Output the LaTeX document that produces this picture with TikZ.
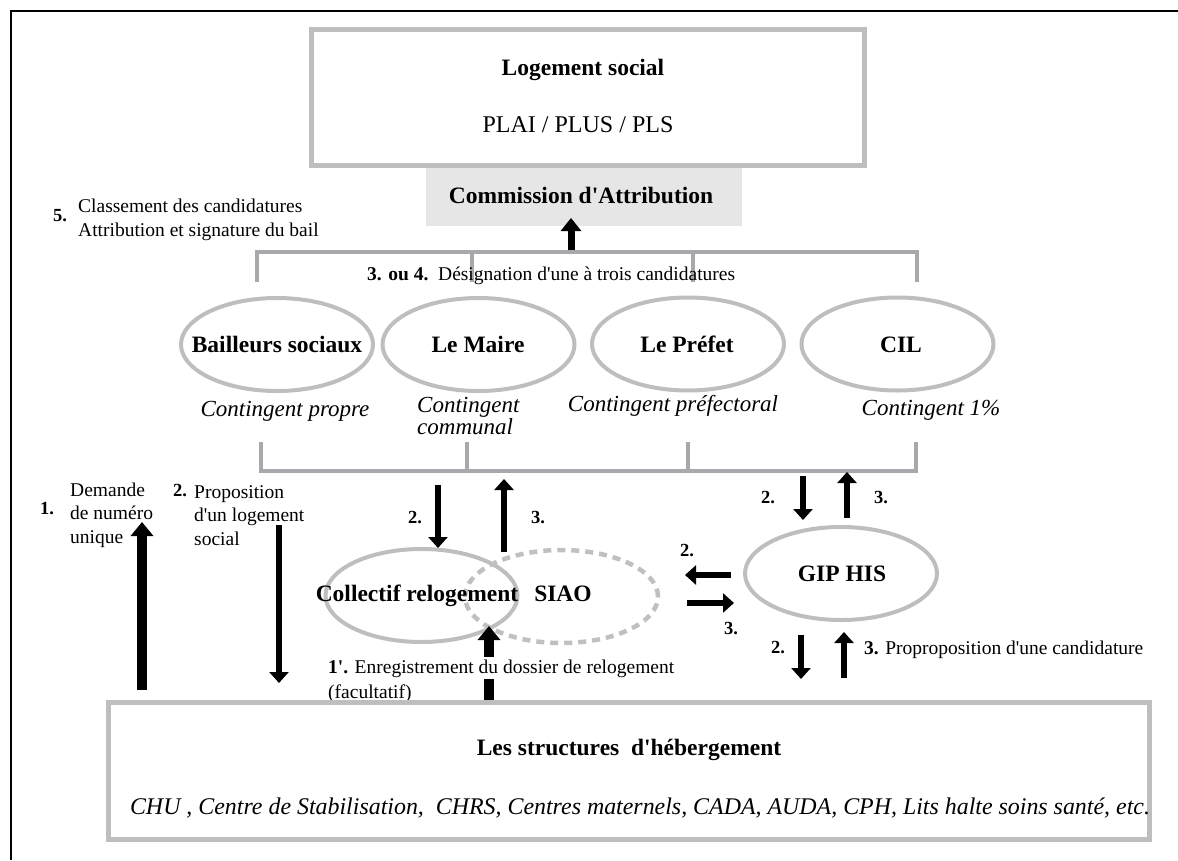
\documentclass[tikz,border=0pt]{standalone}
\usepackage{fontspec}
\setmainfont{Liberation Serif}[Ligatures=TeXOff]
\usetikzlibrary{shapes.geometric,arrows.meta}
\definecolor{boxgray}{RGB}{190,190,193}
\definecolor{brgray}{RGB}{168,168,172}
\definecolor{comfill}{RGB}{230,230,230}
\definecolor{dashgray}{RGB}{192,192,195}
\begin{document}
\begin{tikzpicture}[x=1pt,y=-1pt,
  gbox/.style={draw=boxgray, line width=5pt, inner sep=0pt},
  ell/.style={ellipse, draw=boxgray, line width=4pt, inner sep=0pt, minimum width=192pt, minimum height=93pt},
  dell/.style={ellipse, draw=dashgray, line width=4.5pt, dash pattern=on 8pt off 6pt, inner sep=0pt, minimum width=193pt, minimum height=93pt},
  brk/.style={draw=brgray, line width=4.5pt},
  bigarr/.style={line width=10pt, -{Triangle[width=22pt,length=14pt]}},
  midarr/.style={line width=7pt, -{Triangle[width=20pt,length=13pt]}},
  arr/.style={line width=5.5pt, -{Triangle[width=19pt,length=11pt]}},
  ttl/.style={font=\fontsize{23.5}{28}\selectfont\bfseries, inner sep=0pt},
  reg/.style={font=\fontsize{24}{28}\selectfont, inner sep=0pt},
  sml/.style={font=\fontsize{19.5}{23.5}\selectfont, inner sep=0pt},
  numb/.style={font=\fontsize{18.5}{22}\selectfont\bfseries, inner sep=0pt},
  ital/.style={font=\fontsize{23}{19}\selectfont\itshape, inner sep=0pt}
]
\useasboundingbox (0,0) rectangle (1178,860);
% outer frame
\draw[line width=2pt] (11,860) -- (11,11) -- (1178,11);

% top boxes
\node[gbox, minimum width=553pt, minimum height=136pt] (log) at (588,97.5) {};
\node[ttl, anchor=base] (tlog) at (583,75) {Logement social};
\node[reg, anchor=base] (tplai) at (578,132) {PLAI / PLUS / PLS};
\node[fill=comfill, minimum width=316pt, minimum height=58pt, inner sep=0pt] (com) at (584,197) {};
\node[ttl, anchor=base] (tcom) at (581,203) {Commission d'Attribution};

\node[numb, anchor=base] (n5) at (60,221) {5.};
\node[sml, anchor=base west, align=left] (tclass) at (78,236) {Classement des candidatures\\Attribution et signature du bail};

% upper bracket
\draw[brk] (257,282) -- (257,252) -- (917,252) -- (917,282);
\draw[brk] (472,252) -- (472,282);
\draw[brk] (693,252) -- (693,282);
\coordinate (ca1) at (571,250);
\coordinate (ca2) at (571,218);
\draw[midarr] (ca1) -- (ca2);
\node[sml, anchor=base west] (tdes) at (367,280) {\textbf{3. ou 4.}\ \ Désignation d'une à trois candidatures};

% ellipses
\node[ell] (bail) at (277,344.5) {};
\node[ttl, anchor=base] (tbail) at (277,352.5) {Bailleurs sociaux};
\node[ell] (maire) at (478.5,344.5) {};
\node[ttl, anchor=base] (tmaire) at (478,352.5) {Le Maire};
\node[ell] (pref) at (688,344) {};
\node[ttl, anchor=base] (tpref) at (687,352) {Le Préfet};
\node[ell] (cil) at (897.5,344) {};
\node[ttl, anchor=base] (tcil) at (901,352) {CIL};

\node[ital, anchor=base] (cp) at (285,416) {Contingent propre};
\node[ital, anchor=base west, align=left] (cc) at (417,434) {Contingent\\communal};
\node[ital, anchor=base] (cpf) at (673,411) {Contingent préfectoral};
\node[ital, anchor=base] (c1) at (931,415) {Contingent 1\%};

% lower bracket
\draw[brk] (261,442) -- (261,471) -- (916,471) -- (916,442);
\draw[brk] (467,471) -- (467,442);
\draw[brk] (688,471) -- (688,442);

% left texts and arrows
\node[numb, anchor=base] (n1) at (47,514) {1.};
\node[sml, anchor=base west, align=left] (tdem) at (70,543) {Demande\\de numéro\\unique};
\node[numb, anchor=base] (n2a) at (180,496) {2.};
\node[sml, anchor=base west, align=left] (tprop) at (194,545) {Proposition\\d'un logement\\social};
\coordinate (l1a) at (142,690);
\coordinate (l1b) at (142,522);
\draw[bigarr] (l1a) -- (l1b);
\coordinate (l2a) at (279,525);
\coordinate (l2b) at (279,683);
\draw[arr] (l2a) -- (l2b);

% Collectif / SIAO
\node[ell] (coll) at (421.5,595.5) {};
\node[dell] (siao) at (561.5,596.5) {};
\node[ttl, anchor=base] (tcoll) at (417,601) {Collectif relogement};
\node[ttl, anchor=base] (tsiao) at (563,601) {SIAO};

\coordinate (m2a) at (438,485);
\coordinate (m2b) at (438,548);
\draw[arr] (m2a) -- (m2b);
\node[numb, anchor=base] (n2b) at (415,523) {2.};
\coordinate (m3a) at (504,552);
\coordinate (m3b) at (504,479);
\draw[arr] (m3a) -- (m3b);
\node[numb, anchor=base] (n3b) at (538,523) {3.};

% GIP HIS
\node[ell] (gip) at (841,573.5) {};
\node[ttl, anchor=base] (tgip) at (842,581) {GIP HIS};
\coordinate (g2a) at (803,476);
\coordinate (g2b) at (803,520);
\draw[arr] (g2a) -- (g2b);
\node[numb, anchor=base] (n2c) at (768,503) {2.};
\coordinate (g3a) at (847,518);
\coordinate (g3b) at (847,472);
\draw[arr] (g3a) -- (g3b);
\node[numb, anchor=base] (n3c) at (881,503) {3.};

\coordinate (h2a) at (731,575);
\coordinate (h2b) at (685,575);
\draw[arr] (h2a) -- (h2b);
\node[numb, anchor=base] (n2d) at (687,556) {2.};
\coordinate (h3a) at (687,603);
\coordinate (h3b) at (734,603);
\draw[arr] (h3a) -- (h3b);
\node[numb, anchor=base] (n3d) at (731,634) {3.};

\coordinate (b2a) at (801,635);
\coordinate (b2b) at (801,679);
\draw[arr] (b2a) -- (b2b);
\node[numb, anchor=base] (n2e) at (778,653) {2.};
\coordinate (b3a) at (844,678);
\coordinate (b3b) at (844,632);
\draw[arr] (b3a) -- (b3b);
\node[sml, anchor=base west] (tpro) at (864,654) {\textbf{3.} Proproposition d'une candidature};

% 1' arrow
\coordinate (r1a) at (489,702);
\coordinate (r1b) at (489,626);
\draw[bigarr] (r1a) -- (r1b);
\node[sml, anchor=base west, fill=white, inner ysep=2pt, inner xsep=0pt] (tenr) at (328,673) {\textbf{1'.} Enregistrement du dossier de relogement};
\node[sml, anchor=base west] (tfac) at (328,698) {(facultatif)};

% bottom box
\node[gbox, fill=white, minimum width=1041pt, minimum height=137pt] (heb) at (629,771) {};
\node[ttl, anchor=base] (theb) at (629,755) {Les structures\ \ d'hébergement};
\node[inner sep=0pt, anchor=base, font=\fontsize{23.9}{28}\selectfont\itshape] (tlist) at (640,814) {CHU , Centre de Stabilisation,\ \ CHRS, Centres maternels, CADA, AUDA, CPH, Lits halte soins santé, etc.};
\end{tikzpicture}
\end{document}
